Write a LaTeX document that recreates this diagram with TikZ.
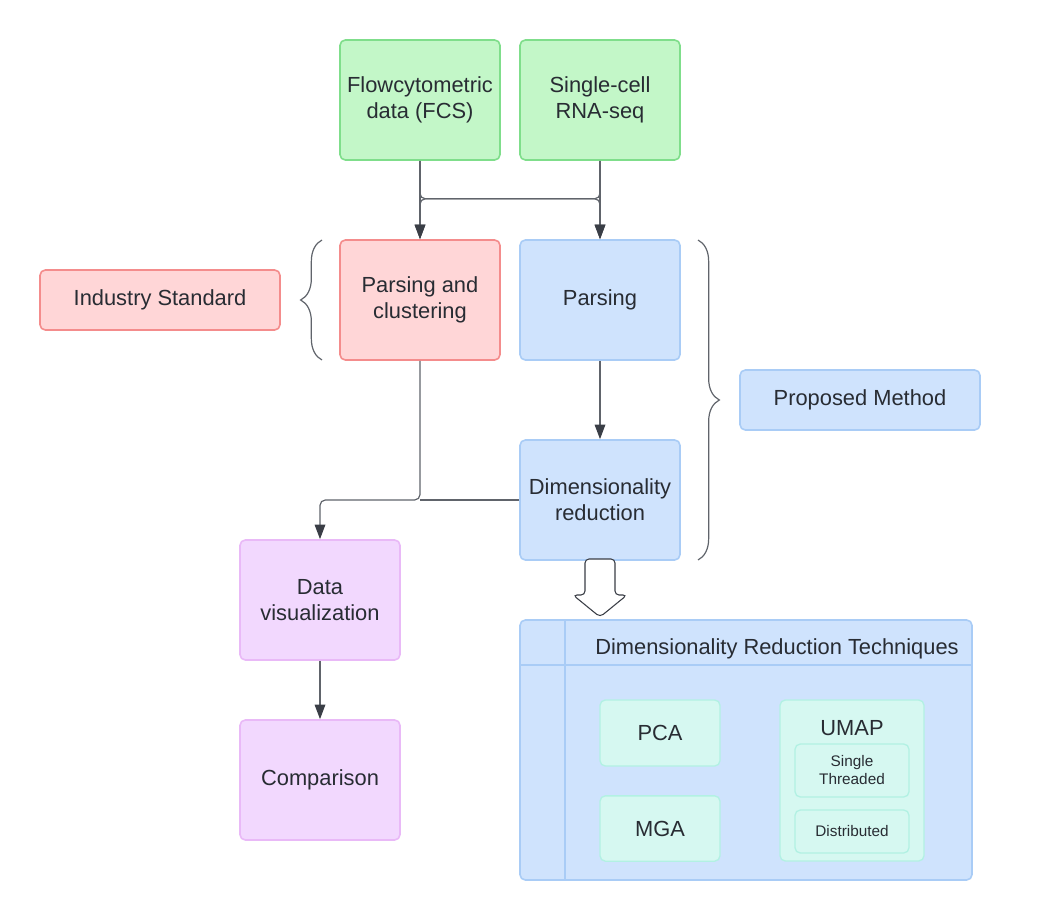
\documentclass[tikz,border=0pt]{standalone}
\usepackage{fontspec}
\setmainfont{Liberation Sans}
\usetikzlibrary{arrows.meta,decorations.pathreplacing}
\definecolor{txt}{HTML}{282C33}
\definecolor{ink}{HTML}{3A3E46}
\definecolor{wire}{HTML}{60646B}
\definecolor{greenfill}{HTML}{C3F7C8}
\definecolor{greenline}{HTML}{7FDE8B}
\definecolor{redfill}{HTML}{FFD6D7}
\definecolor{redline}{HTML}{F48C8C}
\definecolor{bluefill}{HTML}{CFE3FD}
\definecolor{blueline}{HTML}{A9CCF6}
\definecolor{violetfill}{HTML}{F2D8FE}
\definecolor{violetline}{HTML}{E9B9F7}
\definecolor{mintfill}{HTML}{D6F8F1}
\definecolor{mintline}{HTML}{B2F1E3}
\tikzset{
	box/.style = {draw, line width=1.2pt, rounded corners=4pt, align=center, text=txt,
		minimum width=120pt, minimum height=90pt, font=\fontsize{16.4}{19.5}\selectfont},
	greenbox/.style = {box, fill=greenfill, draw=greenline},
	redbox/.style = {box, fill=redfill, draw=redline},
	bluebox/.style = {box, fill=bluefill, draw=blueline},
	violetbox/.style = {box, fill=violetfill, draw=violetline},
	mintbox/.style = {box, fill=mintfill, draw=mintline, line width=1pt},
	small/.style = {font=\fontsize{11.5}{13.5}\selectfont},
	arrow/.style = {draw=wire, line width=0.9pt, rounded corners=4pt,
		-{Triangle[length=11pt, width=8pt, fill=ink, color=ink]}},
	wire/.style = {draw=wire, line width=0.9pt, rounded corners=4pt},
	curly/.style = {draw=wire, line width=0.9pt, decorate,
		decoration={brace, amplitude=16pt}}
}
\begin{document}
\begin{tikzpicture}[x=0.75pt, y=-0.75pt]
	\useasboundingbox (0,0) rectangle (1054,920);

	% Nodes
	\node[greenbox] (flow) at (420,100) {Flowcytometric\\data (FCS)};
	\node[greenbox] (single) at (600,100) {Single-cell\\RNA-seq};
	\node[redbox] (cluster) at (420,300) {Parsing and\\clustering};
	\node[bluebox] (parse) at (600,300) {Parsing};
	\node[bluebox] (dimred) at (600,500) {Dimensionality\\reduction};
	\node[violetbox] (viz) at (320,600) {Data\\visualization};
	\node[violetbox] (compare) at (320,780) {Comparison};
	\node[redbox, minimum width=180pt, minimum height=45pt] (industry) at (160,300) {Industry Standard};
	\node[bluebox, minimum width=180pt, minimum height=45pt] (proposed) at (860,400) {Proposed Method};

	% Techniques container
	\node[bluebox, minimum width=339pt, minimum height=195pt] (techniques) at (746,750) {};
	\draw[blueline, line width=1.2pt] (565,620) -- (565,880);
	\draw[blueline, line width=1.2pt] (520,665) -- (972,665);
	\node[text=txt, font=\fontsize{16.4}{19.5}\selectfont] (techtitle) at (777,649) {Dimensionality Reduction Techniques};
	\node[mintbox, minimum width=90pt, minimum height=49.5pt] (pca) at (660,733) {PCA};
	\node[mintbox, minimum width=90pt, minimum height=49pt] (mga) at (660,828.5) {MGA};
	\node[mintbox, minimum width=108pt, minimum height=120.75pt] (umap) at (852,780.5) {};
	\node[text=txt, font=\fontsize{16.4}{19.5}\selectfont] (umaptitle) at (852,728) {UMAP};
	\node[mintbox, small, minimum width=85.5pt, minimum height=39.75pt] (threaded) at (852,770.5) {Single\\Threaded};
	\node[mintbox, small, minimum width=85.5pt, minimum height=32.25pt] (distributed) at (852,831.5) {Distributed};

	% Braces
	\draw[curly] (322,360) -- (322,240);
	\draw[curly] (698,240) -- (698,560);

	% Arrows
	\coordinate (join) at (cluster.south |- dimred.west);
	\draw[arrow] (flow) -- (cluster);
	\draw[arrow] (single) -- (parse);
	\draw[arrow] (flow.south) -- ++(0,38) -| (parse.north);
	\draw[arrow] (single.south) -- ++(0,38) -| (cluster.north);
	\draw[arrow] (parse) -- (dimred);
	\draw[arrow] (cluster.south) -- (join) -| (viz.north);
	\draw[wire] (dimred.west) -- (join);
	\draw[arrow] (viz) -- (compare);

	% Block arrow
	\draw[ink, line width=0.8pt, fill=white, rounded corners=3pt]
		(585,559) -- (585,595) -- (573,595) -- (600,617) -- (627,595) -- (615,595) -- (615,559) -- cycle;
\end{tikzpicture}
\end{document}
